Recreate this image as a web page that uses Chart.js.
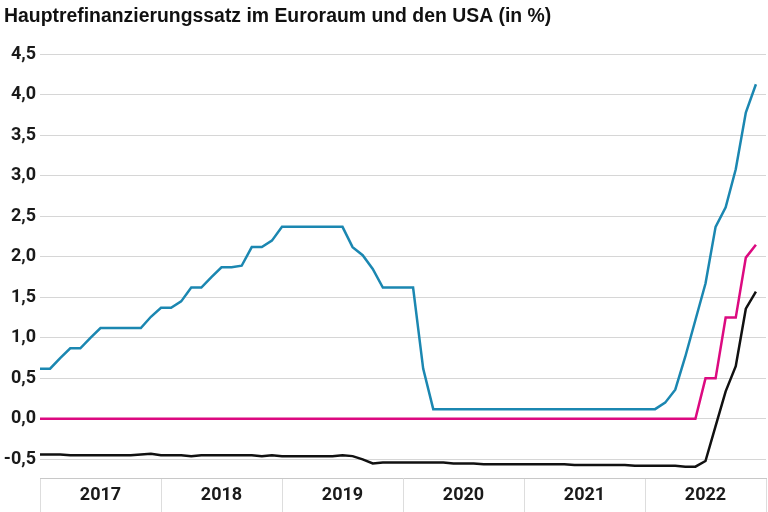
<!DOCTYPE html>
<html>
<head>
<meta charset="utf-8">
<script src="https://cdn.jsdelivr.net/npm/chart.js@4.4.0/dist/chart.umd.min.js"></script>
<style>
  html, body { margin: 0; padding: 0; background: #fff; }
  #wrap { width: 768px; height: 512px; }
</style>
</head>
<body>
<div id="wrap"><canvas id="myChart" width="768" height="512"></canvas></div>
<script>
// monthly values, Jan 2017 - Dec 2022
var years = [2017, 2018, 2019, 2020, 2021, 2022];

var usa = [
  0.62, 0.62, 0.75, 0.87, 0.87, 1.00, 1.12, 1.12, 1.12, 1.12, 1.12, 1.26,
  1.37, 1.37, 1.45, 1.62, 1.62, 1.75, 1.87, 1.87, 1.89, 2.12, 2.12, 2.20,
  2.37, 2.37, 2.37, 2.37, 2.37, 2.37, 2.37, 2.12, 2.02, 1.85, 1.62, 1.62,
  1.62, 1.62, 0.62, 0.12, 0.12, 0.12, 0.12, 0.12, 0.12, 0.12, 0.12, 0.12,
  0.12, 0.12, 0.12, 0.12, 0.12, 0.12, 0.12, 0.12, 0.12, 0.12, 0.12, 0.12,
  0.12, 0.12, 0.20, 0.36, 0.77, 1.22, 1.67, 2.37, 2.61, 3.08, 3.78, 4.13
];

var ezb = [
  0, 0, 0, 0, 0, 0, 0, 0, 0, 0, 0, 0,
  0, 0, 0, 0, 0, 0, 0, 0, 0, 0, 0, 0,
  0, 0, 0, 0, 0, 0, 0, 0, 0, 0, 0, 0,
  0, 0, 0, 0, 0, 0, 0, 0, 0, 0, 0, 0,
  0, 0, 0, 0, 0, 0, 0, 0, 0, 0, 0, 0,
  0, 0, 0, 0, 0, 0, 0.50, 0.50, 1.25, 1.25, 1.99, 2.15
];

var estr = [
  -0.44, -0.44, -0.44, -0.45, -0.45, -0.45, -0.45, -0.45, -0.45, -0.45, -0.44, -0.43,
  -0.45, -0.45, -0.45, -0.46, -0.45, -0.45, -0.45, -0.45, -0.45, -0.45, -0.46, -0.45,
  -0.46, -0.46, -0.46, -0.46, -0.46, -0.46, -0.45, -0.46, -0.50, -0.55, -0.54, -0.54,
  -0.54, -0.54, -0.54, -0.54, -0.54, -0.55, -0.55, -0.55, -0.56, -0.56, -0.56, -0.56,
  -0.56, -0.56, -0.56, -0.56, -0.56, -0.57, -0.57, -0.57, -0.57, -0.57, -0.57, -0.58,
  -0.58, -0.58, -0.58, -0.58, -0.59, -0.59, -0.52, -0.09, 0.34, 0.65, 1.36, 1.57
];

var yTicks = [-0.5, 0, 0.5, 1, 1.5, 2, 2.5, 3, 3.5, 4, 4.5];

var tickFont = { family: "'Liberation Sans Narrow', 'Roboto', sans-serif", size: 18, weight: 'bold' };

function toPoints(arr) {
  return arr.map(function (v, i) { return { x: i, y: v }; });
}

function lineSet(label, arr, color) {
  return {
    label: label,
    data: toPoints(arr),
    borderColor: color,
    borderWidth: 2.5,
    pointRadius: 0,
    fill: false,
    tension: 0
  };
}

var ctx = document.getElementById('myChart').getContext('2d');
var chart = new Chart(ctx, {
  type: 'line',
  data: {
    datasets: [
      lineSet('EZB', ezb, '#dc0a80'),
      lineSet('€STR', estr, '#111111'),
      lineSet('USA', usa, '#1b87b1')
    ]
  },
  options: {
    responsive: false,
    animation: false,
    layout: { padding: { left: 4, right: 2, top: 0, bottom: 0 } },
    plugins: {
      legend: { display: false },
      tooltip: { enabled: false },
      title: {
        display: true,
        text: 'Hauptrefinanzierungssatz im Euroraum und den USA (in %)',
        align: 'start',
        color: '#111',
        font: { family: "'Liberation Sans', Arial, sans-serif", size: 19.4, weight: 'bold' },
        padding: { top: 5, bottom: 26 }
      }
    },
    scales: {
      x: {
        type: 'linear',
        min: 0,
        max: 72,
        afterBuildTicks: function (axis) {
          var t = [];
          for (var v = 0; v <= 72; v += 6) t.push({ value: v });
          axis.ticks = t;
        },
        afterFit: function (scale) { scale.height = 34; },
        border: { display: true, color: '#c8c8c8', width: 1 },
        grid: {
          drawOnChartArea: false,
          drawTicks: true,
          tickLength: 34,
          color: function (c) {
            return c.tick && c.tick.value % 12 === 0 ? '#dddddd' : 'rgba(0,0,0,0)';
          }
        },
        ticks: {
          autoSkip: false,
          maxRotation: 0,
          padding: -27,
          color: '#1a1a1a',
          font: tickFont,
          callback: function (v) {
            return v % 12 === 6 ? String(years[(v - 6) / 12]) : '';
          }
        }
      },
      y: {
        min: -0.73,
        max: 4.5,
        afterBuildTicks: function (axis) {
          axis.ticks = yTicks.map(function (v) { return { value: v }; });
        },
        afterFit: function (scale) { scale.width = 36; },
        border: { display: false },
        grid: { color: '#d6d6d6', lineWidth: 1, drawTicks: false },
        ticks: {
          padding: 4,
          color: '#1a1a1a',
          font: tickFont,
          callback: function (v) {
            return v.toFixed(1).replace('.', ',');
          }
        }
      }
    }
  }
});
</script>
</body>
</html>
